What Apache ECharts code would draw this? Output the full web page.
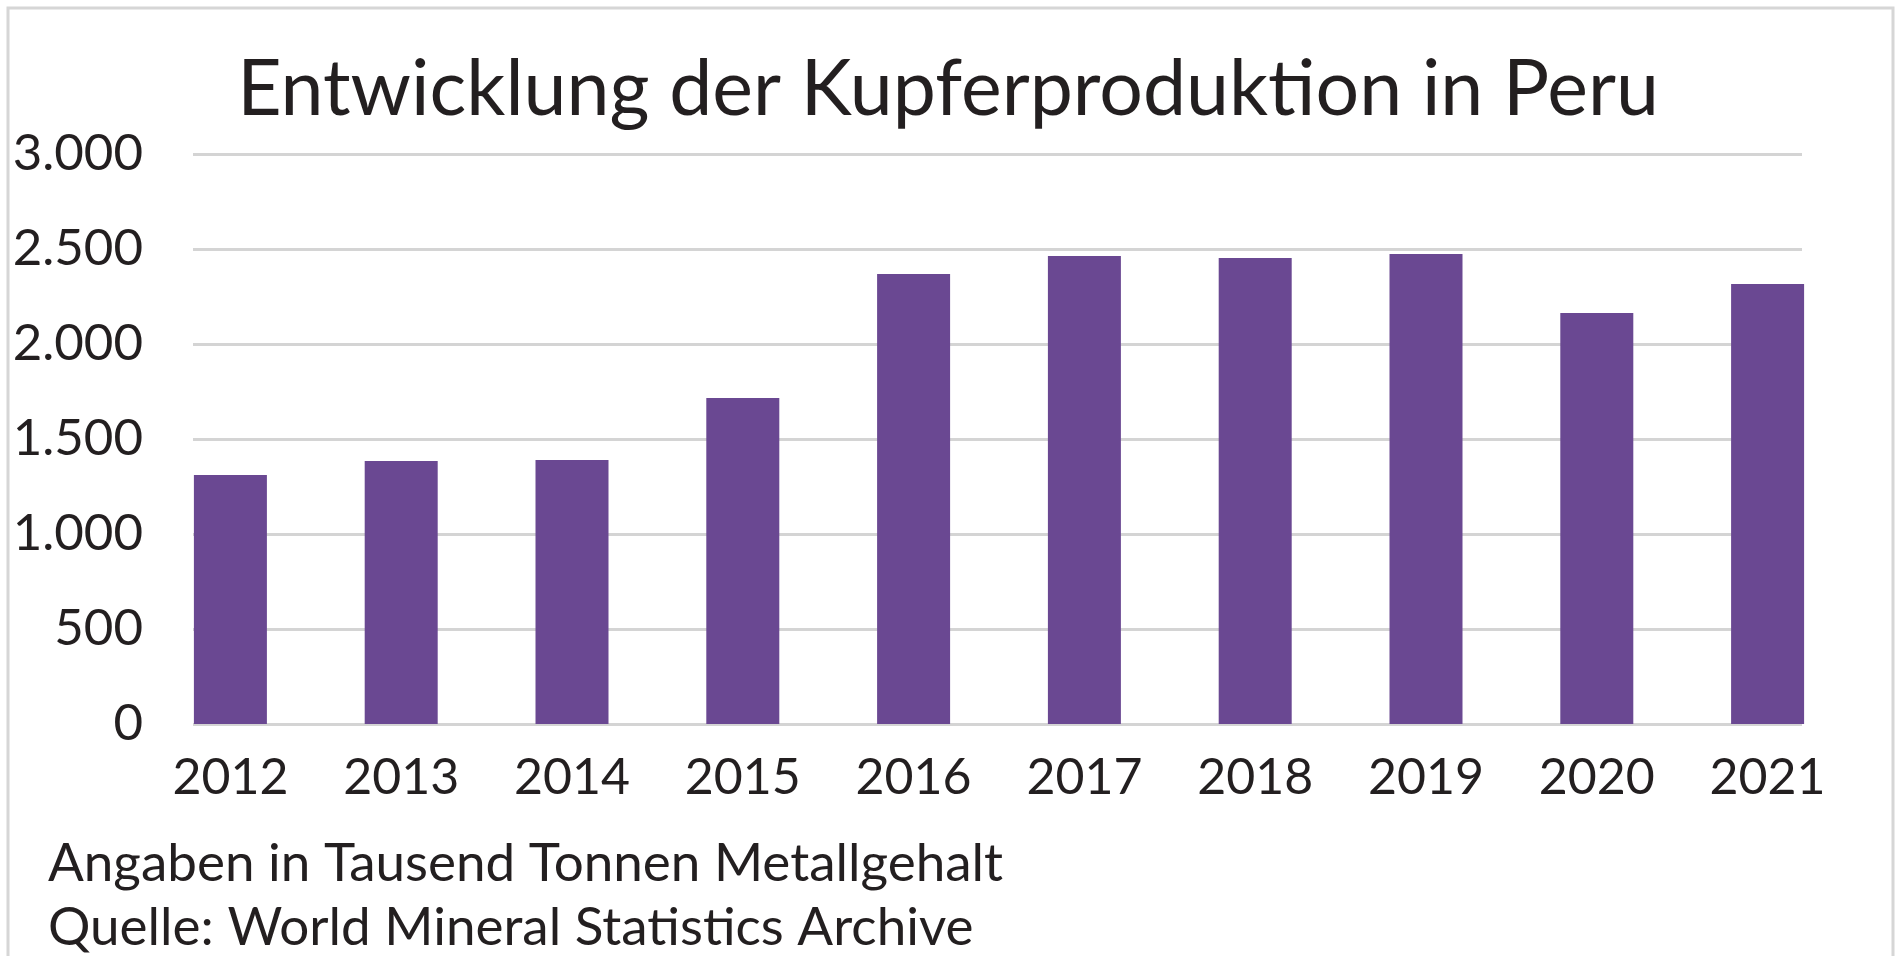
<!DOCTYPE html>
<html>
<head>
<meta charset="utf-8">
<title>Kupferproduktion Peru</title>
<script src="https://cdn.jsdelivr.net/npm/echarts@6/dist/echarts.min.js"></script>
<style>
	html, body { margin: 0; padding: 0; background: #fff; }
	#chartDiv { width: 1896px; height: 956px; }
</style>
</head>
<body>
<div id="chartDiv"></div>
<script>
var years = ['2012', '2013', '2014', '2015', '2016', '2017', '2018', '2019', '2020', '2021'];
var production = [1310, 1384, 1389, 1716, 2368, 2463, 2453, 2474, 2163, 2316];
var yTicks = [0, 500, 1000, 1500, 2000, 2500, 3000];

var titleText = 'Entwicklung der Kupferproduktion in Peru';
var noteLines = ['Angaben in Tausend Tonnen Metallgehalt', 'Quelle: World Mineral Statistics Archive'];

var fontName = 'Lato';
var textColor = '#231f20';

var chart = echarts.init(document.getElementById('chartDiv'));

function formatTick(value) {
	// Tausenderpunkt wie im Original
	return String(value).replace(/\B(?=(\d{3})+(?!\d))/g, '.');
}

var option = {
	animation: false,
	backgroundColor: '#ffffff',
	title: {
		text: titleText,
		left: 'center',
		top: 47,
		textStyle: {
			fontFamily: fontName,
			fontSize: 77,
			fontWeight: 'normal',
			color: textColor
		}
	},
	graphic: [
		{
			type: 'rect',
			shape: { x: 8, y: 8, width: 1885, height: 980 },
			style: { fill: 'none', stroke: '#d6d6d6', lineWidth: 3 },
			silent: true
		},
		{
			type: 'text',
			left: 48,
			top: 832,
			style: {
				text: noteLines.join('\n'),
				font: '53px ' + fontName,
				lineHeight: 64,
				fill: textColor
			}
		}
	],
	grid: [
		// gridlines only, flush with the outer bars
		{ left: 193, right: 94, top: 154, bottom: 232 },
		// bars, category bands widened so first/last bar touch grid edges
		{ left: 145, right: 43, top: 154, bottom: 232 }
	],
	xAxis: [
		{
			gridIndex: 0,
			type: 'value',
			min: 0,
			max: 1,
			show: false
		},
		{
			gridIndex: 1,
			type: 'category',
			data: years,
			boundaryGap: true,
			axisLine: { show: false },
			axisTick: { show: false },
			splitLine: { show: false },
			axisLabel: {
				margin: 29,
				fontFamily: fontName,
				fontSize: 50,
				color: textColor
			}
		}
	],
	yAxis: [
		{
			gridIndex: 0,
			type: 'value',
			min: yTicks[0],
			max: yTicks[yTicks.length - 1],
			interval: 500,
			axisLine: { show: false },
			axisTick: { show: false },
			splitLine: {
				show: true,
				lineStyle: { color: '#d4d4d4', width: 3 }
			},
			axisLabel: {
				margin: 50,
				fontFamily: fontName,
				fontSize: 51,
				color: textColor,
				formatter: formatTick
			}
		},
		{
			gridIndex: 1,
			type: 'value',
			min: yTicks[0],
			max: yTicks[yTicks.length - 1],
			interval: 500,
			show: false,
			splitLine: { show: false }
		}
	],
	series: [
		{
			name: 'Kupfer',
			type: 'bar',
			xAxisIndex: 1,
			yAxisIndex: 1,
			data: production,
			barWidth: 73,
			itemStyle: { color: '#6a4892' }
		}
	]
};

chart.setOption(option, true);
</script>
</body>
</html>
